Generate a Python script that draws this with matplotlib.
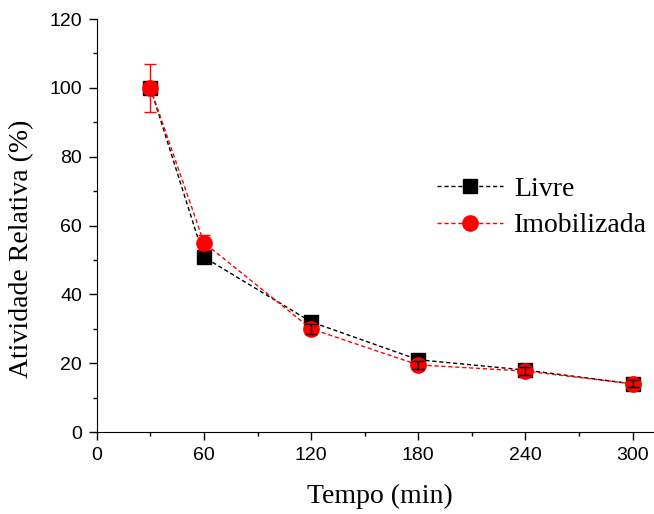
import matplotlib.pyplot as plt
from matplotlib.lines import Line2D
from matplotlib.ticker import MultipleLocator

# Dados
tempo = [30, 60, 120, 180, 240, 300]
livre = [100, 50.8, 32, 21, 18, 14]
livre_err = [1.5, 1.5, 1.2, 1.0, 1.0, 1.0]
imob = [100, 55, 30, 19.5, 17.7, 14]
imob_err = [7, 2.2, 1.5, 1.2, 1.2, 1.0]

fig = plt.figure(figsize=(6.54, 5.14), dpi=100)
ax = fig.add_axes([0.148, 0.1595, 0.852, 0.8035])

serif = 'Liberation Serif'
sans = 'Liberation Sans'

ax.errorbar(tempo, livre, yerr=livre_err, fmt='s', color='black', ecolor='black',
            ls=(0, (3, 2)), lw=1, ms=10, capsize=4, elinewidth=1, zorder=2)
ax.errorbar(tempo, imob, yerr=imob_err, fmt='o', color='red', ecolor='red',
            ls=(0, (3, 2)), lw=1, ms=11, capsize=4, elinewidth=1, zorder=3)
# barras de erro pretas por cima dos pontos finais
ax.errorbar(tempo[2:], imob[2:], yerr=imob_err[2:], fmt='none', ecolor='black',
            capsize=4, elinewidth=1, zorder=4)

ax.set_xlim(0, 312)
ax.set_ylim(0, 120)
ax.set_xticks([0, 60, 120, 180, 240, 300])
ax.set_yticks(range(0, 121, 20))
ax.xaxis.set_minor_locator(MultipleLocator(30))
ax.yaxis.set_minor_locator(MultipleLocator(10))
ax.tick_params(which='major', direction='out', length=5.5, width=1, labelsize=14, pad=5)
ax.tick_params(which='minor', direction='out', length=3, width=1)
for lab in ax.get_xticklabels() + ax.get_yticklabels():
    lab.set_fontfamily(sans)

ax.spines['top'].set_visible(False)
ax.spines['right'].set_visible(False)

ax.set_xlabel('Tempo (min)', fontsize=20, fontfamily=serif)
ax.set_ylabel('Atividade Relativa (%)', fontsize=20, fontfamily=serif)
ax.xaxis.set_label_coords(0.508, -0.125)
ax.yaxis.set_label_coords(-0.112, 0.443)

handles = [
    Line2D([], [], color='black', ls=(0, (3, 2)), lw=1, marker='s', ms=10),
    Line2D([], [], color='red', ls=(0, (3, 2)), lw=1, marker='o', ms=11),
]
ax.legend(handles, ['Livre', 'Imobilizada'], loc='upper left',
          bbox_to_anchor=(0.59, 0.646), frameon=False,
          prop={'family': serif, 'size': 20}, handlelength=2.4, handletextpad=0.4,
          labelspacing=0.4, borderaxespad=0)

fig.savefig('out.png', dpi=100)
